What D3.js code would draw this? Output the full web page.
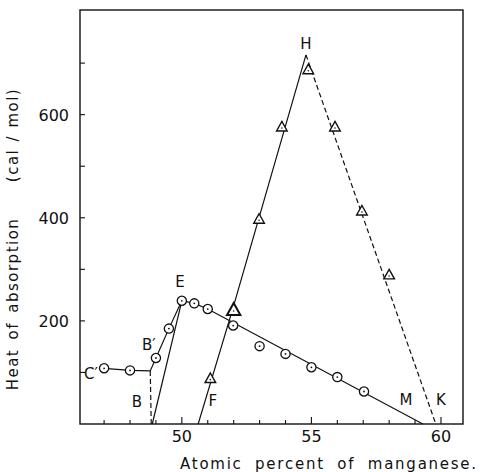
<!DOCTYPE html>
<html>
<head>
<meta charset="utf-8">
<script src="https://cdn.jsdelivr.net/npm/d3@7"></script>
<style>
  body { margin: 0; background: #fff; }
  text { font-family: "DejaVu Sans", sans-serif; fill: #111; }
</style>
</head>
<body>
<div id="chart"></div>
<script>
// circles: heat of absorption, solid phase runs
var circleX = [47, 48, 49, 49.5, 50, 50.48, 51, 51.98, 53, 54, 55, 56, 57.03];
var circleY = [108, 104, 128, 185, 239, 234, 223, 191, 151, 136, 110, 91, 63];

// triangles
var triX = [51.1, 52.0, 52.98, 53.86, 54.88, 55.91, 56.95, 58.0];
var triY = [88, 221, 397, 576, 687, 576, 413, 289];
var triBold = [false, true, false, false, false, false, false, false];

// drawn lines (vertex lists)
var lineCE = [[46.8, 108], [47, 108], [48, 104], [48.78, 103], [49, 128], [49.5, 185], [50, 239], [50.48, 234], [51, 223], [59.3, 0]];
var lineBB = [[48.78, 103], [48.82, 0]];          // dashed
var lineBE = [[48.86, 0], [50, 239]];
var lineFH = [[50.63, 0], [51.95, 221], [54.79, 716]];
var lineHK = [[54.79, 716], [59.8, 0]];           // dashed

var letters = [
  {t: "C\u2032", x: 46.49, y: 97},
  {t: "B\u2032", x: 48.73, y: 155},
  {t: "B", x: 48.27, y: 43},
  {t: "E", x: 49.93, y: 277},
  {t: "F", x: 51.2, y: 45},
  {t: "M", x: 58.65, y: 48},
  {t: "K", x: 60.0, y: 48},
  {t: "H", x: 54.79, y: 738}
];

var xTicks = d3.range(47, 61);
var xLabels = [50, 55, 60];
var yTicks = [100, 200, 300, 400, 500, 600, 700];
var yLabels = [200, 400, 600];

var W = 484, H = 472;
var L = 80, R = 463, T = 10, B = 424;

var svg = d3.select("#chart").append("svg")
    .attr("width", W)
    .attr("height", H);

var x = d3.scaleLinear().domain([46.07, 60.85]).range([L, R]);
var y = d3.scaleLinear().domain([0, 803]).range([B, T]);

// frame
svg.append("rect")
    .attr("x", L).attr("y", T)
    .attr("width", R - L).attr("height", B - T)
    .attr("fill", "none")
    .attr("stroke", "#111")
    .attr("stroke-width", 1.4);

// x ticks, inward
svg.selectAll(".xt").data(xTicks).enter().append("line")
    .attr("x1", function(d) { return x(d); })
    .attr("x2", function(d) { return x(d); })
    .attr("y1", B)
    .attr("y2", function(d) { return d % 5 == 0 ? B - 7 : B - 4; })
    .attr("stroke", "#111").attr("stroke-width", 1.1);

svg.selectAll(".xl").data(xLabels).enter().append("text")
    .attr("x", function(d) { return x(d); })
    .attr("y", 442)
    .attr("text-anchor", "middle")
    .style("font-size", "16px")
    .text(function(d) { return d; });

// y ticks, inward
svg.selectAll(".yt").data(yTicks).enter().append("line")
    .attr("x1", L)
    .attr("x2", L + 5)
    .attr("y1", function(d) { return y(d); })
    .attr("y2", function(d) { return y(d); })
    .attr("stroke", "#111").attr("stroke-width", 1.1);

svg.selectAll(".yl").data(yLabels).enter().append("text")
    .attr("x", 69)
    .attr("y", function(d) { return y(d) + 6; })
    .attr("text-anchor", "end")
    .style("font-size", "16px")
    .text(function(d) { return d; });

// axis titles
svg.append("text")
    .attr("x", 180).attr("y", 469)
    .style("font-size", "15px")
    .style("letter-spacing", "1.75px")
    .style("word-spacing", "6px")
    .text("Atomic percent of manganese.");

svg.append("text")
    .attr("transform", "translate(18,304) rotate(-90)")
    .attr("text-anchor", "middle")
    .style("font-size", "15px")
    .style("letter-spacing", "1.5px")
    .style("word-spacing", "3px")
    .text("Heat of absorption");

svg.append("text")
    .attr("transform", "translate(18,135) rotate(-90)")
    .attr("text-anchor", "middle")
    .style("font-size", "15px")
    .style("letter-spacing", "1.5px")
    .style("word-spacing", "1px")
    .text("(cal / mol)");

// lines
var line = d3.line()
    .x(function(d) { return x(d[0]); })
    .y(function(d) { return y(d[1]); });

function drawLine(pts, dashed) {
  svg.append("path")
      .attr("d", line(pts))
      .attr("fill", "none")
      .attr("stroke", "#111")
      .attr("stroke-width", 1.2)
      .attr("stroke-dasharray", dashed ? "5,3" : null);
}
drawLine(lineCE, false);
drawLine(lineBB, true);
drawLine(lineBE, false);
drawLine(lineFH, false);
drawLine(lineHK, true);

// circle markers
var circ = svg.selectAll(".c").data(circleX).enter().append("g")
    .attr("transform", function(d, i) { return "translate(" + x(d) + "," + y(circleY[i]) + ")"; });
circ.append("circle").attr("r", 4.6)
    .attr("fill", "#fff").attr("stroke", "#111").attr("stroke-width", 1.3);
circ.append("circle").attr("r", 0.9).attr("fill", "#111");

// triangle markers
var tri = svg.selectAll(".t").data(triX).enter().append("g")
    .attr("transform", function(d, i) { return "translate(" + x(d) + "," + y(triY[i]) + ")"; });
tri.append("path")
    .attr("d", function(d, i) {
      var s = triBold[i] ? 7 : 5.6;
      return "M0," + (-s) + "L" + (s * 0.95) + "," + (s * 0.7) + "L" + (-s * 0.95) + "," + (s * 0.7) + "Z";
    })
    .attr("fill", "#fff").attr("stroke", "#111")
    .attr("stroke-width", function(d, i) { return triBold[i] ? 2 : 1.4; });
tri.append("circle").attr("r", 0.8).attr("cy", 1).attr("fill", "#111");

// letter annotations
svg.selectAll(".lab").data(letters).enter().append("text")
    .attr("x", function(d) { return x(d.x); })
    .attr("y", function(d) { return y(d.y) + 5.5; })
    .attr("text-anchor", "middle")
    .style("font-size", "15px")
    .text(function(d) { return d.t; });
</script>
</body>
</html>
